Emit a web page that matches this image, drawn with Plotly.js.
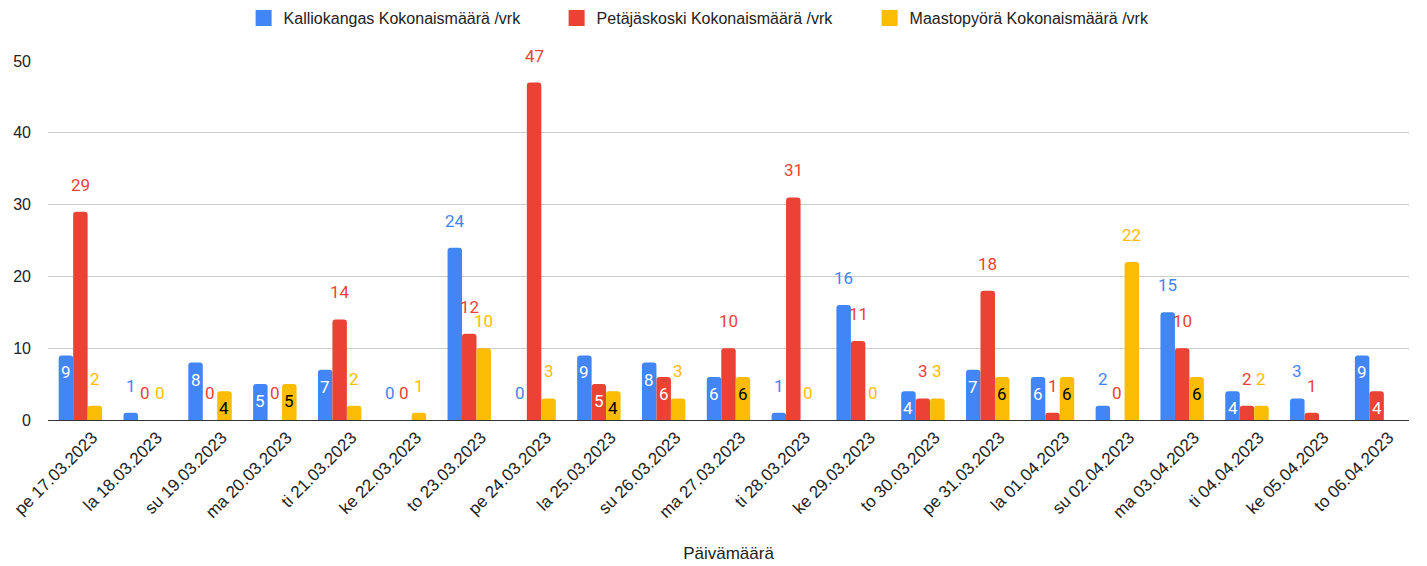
<!DOCTYPE html>
<html><head><meta charset="utf-8">
<script src="https://cdn.plot.ly/plotly-3.0.1.min.js"></script>
<style>html,body{margin:0;padding:0;background:#fff}#c{width:1427px;height:566px}</style>
</head><body><div id="c"></div>
<script>
const categories = ["pe 17.03.2023","la 18.03.2023","su 19.03.2023","ma 20.03.2023","ti 21.03.2023","ke 22.03.2023","to 23.03.2023","pe 24.03.2023","la 25.03.2023","su 26.03.2023","ma 27.03.2023","ti 28.03.2023","ke 29.03.2023","to 30.03.2023","pe 31.03.2023","la 01.04.2023","su 02.04.2023","ma 03.04.2023","ti 04.04.2023","ke 05.04.2023","to 06.04.2023"];
const kalliokangas = [9,1,8,5,7,0,24,0,9,8,6,1,16,4,7,6,2,15,4,3,9];
const petajaskoski = [29,0,0,0,14,0,12,47,5,6,10,31,11,3,18,1,0,10,2,1,4];
const maastopyora = [2,0,4,5,2,1,10,3,4,3,6,0,0,3,6,6,22,6,2,null,null];
const seriesNames = ["Kalliokangas Kokonaismäärä /vrk","Petäjäskoski Kokonaismäärä /vrk","Maastopyörä Kokonaismäärä /vrk"];
const colors = ["#4285F4","#EA4335","#FBBC04"];
const insideColors = ["#ffffff","#ffffff","#000000"];

const W = 1427, H = 566;
const M = {l: 48, r: 18, t: 61, b: 146};
const BARGAP = 0.33;
const allSeries = [kalliokangas, petajaskoski, maastopyora];

function isInside(v){ return v !== null && v >= 4 && v < 10; }

const data = allSeries.map((vals, i) => ({
  type: "bar", x: categories, y: vals, name: seriesNames[i],
  marker: {color: colors[i], cornerradius: 3},
  showlegend: false, hoverinfo: "x+y+name"
}));
// legend entries with larger square swatches
seriesNames.forEach((n, i) => {
  data.push({type: "scatter", mode: "markers", x: [null], y: [null], name: n,
    marker: {symbol: "square", size: 16, color: colors[i]}, hoverinfo: "skip"});
});

// value labels anchored to each bar's value
const slot = (W - M.l - M.r) / categories.length;
const barW = slot * (1 - BARGAP) / allSeries.length;
const annotations = [];
allSeries.forEach((vals, i) => {
  vals.forEach((v, j) => {
    if (v === null) return;
    const inside = isInside(v);
    annotations.push({
      x: categories[j], y: v, xref: "x", yref: "y",
      text: String(v), showarrow: false,
      xshift: (i - 1) * barW, yshift: inside ? -17 : 27, yanchor: "middle",
      font: {family: "Roboto", size: 17, color: inside ? insideColors[i] : colors[i]}
    });
  });
});

const layout = {
  width: W, height: H,
  margin: M,
  barmode: "group", bargap: BARGAP, bargroupgap: 0,
  font: {family: "Liberation Sans, Arial, sans-serif", size: 15, color: "#222"},
  showlegend: true,
  legend: {orientation: "h", x: 0.4887, xanchor: "center", y: 0.968, yanchor: "middle", yref: "container",
           font: {size: 16, color: "#222"}, entrywidth: 268, itemsizing: "trace"},
  annotations: annotations,
  xaxis: {tickangle: -45, tickfont: {size: 17, color: "#222"}, showgrid: false, showline: true, linecolor: "#333", linewidth: 1,
          ticklabelshift: 12,
          title: {text: "Päivämäärä", font: {size: 17, color: "#222"}, standoff: 26}, automargin: false},
  yaxis: {range: [0, 50], dtick: 10, gridcolor: "#cccccc", zeroline: true, zerolinecolor: "#333", zerolinewidth: 1,
          tickfont: {size: 16, color: "#222"}, ticks: "", ticklabelstandoff: 16, automargin: false},
  plot_bgcolor: "#fff", paper_bgcolor: "#fff"
};
Plotly.newPlot("c", data, layout, {displayModeBar: false});
</script></body></html>
